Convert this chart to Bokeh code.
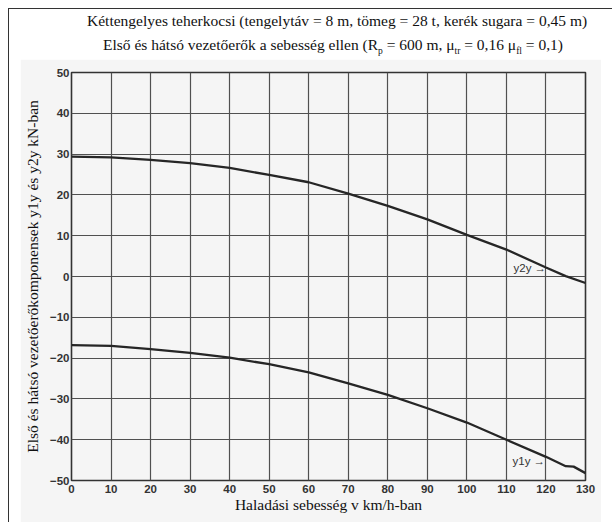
from bokeh.plotting import figure
from bokeh.models import Label, FixedTicker, Range1d, Div
from bokeh.layouts import column
from bokeh.embed import file_html
from bokeh.resources import INLINE

# ---- data ----
speed_y2y = [0, 10, 20, 30, 40, 50, 60, 70, 80, 90, 100, 110, 120, 125, 130]
y2y = [29.4, 29.2, 28.6, 27.8, 26.6, 24.9, 23.1, 20.3, 17.3, 14.0, 10.2, 6.6, 2.2, 0.1, -1.6]
speed_y1y = [0, 10, 20, 30, 40, 50, 60, 70, 80, 90, 100, 110, 120, 125, 127, 130]
y1y = [-16.8, -17.0, -17.8, -18.7, -19.9, -21.5, -23.5, -26.2, -29.0, -32.3, -35.8, -40.0, -44.2, -46.5, -46.6, -48.2]
x_ticks = [0, 10, 20, 30, 40, 50, 60, 70, 80, 90, 100, 110, 120, 130]
y_ticks = [-50, -40, -30, -20, -10, 0, 10, 20, 30, 40, 50]

title1 = "Kéttengelyes teherkocsi (tengelytáv = 8 m, tömeg = 28 t, kerék sugara = 0,45 m)"
title2 = ("Első és hátsó vezetőerők a sebesség ellen (R<sub>p</sub> = 600 m, "
          "μ<sub>tr</sub> = 0,16 μ<sub>fl</sub> = 0,1)")
x_label = "Haladási sebesség v km/h-ban"
y_label = "Első és hátsó vezetőerőkomponensek y1y és y2y kN-ban"
curve_labels = ["y2y →", "y1y →"]

# ---- layout (page pixels) ----
FL, FR, FT, FB = 72, 586, 73, 480          # plot frame in page coordinates
PX0, PY0, PX1, PY1 = 20.5, 59.5, 602, 522.5  # figure canvas in page coordinates
GREY = "#f5f5f5"

p = figure(width=int(PX1 - PX0), height=int(PY1 - PY0), output_backend="svg",
           toolbar_location=None,
           x_range=Range1d(0, 130), y_range=Range1d(-50, 50),
           min_border_left=int(FL - PX0), min_border_right=int(PX1 - FR),
           min_border_top=int(FT - PY0), min_border_bottom=int(PY1 - FB),
           margin=(0, 0, 0, 11))
p.background_fill_color = GREY
p.border_fill_color = GREY
p.outline_line_color = "#333333"
p.outline_line_width = 1.6

def dx(px):
    return (px - FL) / (FR - FL) * 130.0

def dy(py):
    return 50.0 - (py - FT) / (FB - FT) * 100.0

for ax in (p.xaxis[0], p.yaxis[0]):
    ax.axis_line_color = None
    ax.major_tick_line_color = None
    ax.minor_tick_line_color = None
    ax.major_tick_out = 0
    ax.major_tick_in = 0
    ax.minor_tick_out = 0
    ax.minor_tick_in = 0
    ax.major_label_text_font = "Liberation Sans"
    ax.major_label_text_font_size = "11.5px"
    ax.major_label_text_font_style = "bold"
    ax.major_label_text_color = "#333333"
    ax.axis_label_text_font = "Liberation Serif"
    ax.axis_label_text_font_size = "15.5px"
    ax.axis_label_text_font_style = "normal"
    ax.axis_label_text_color = "#111111"
p.xaxis.ticker = FixedTicker(ticks=x_ticks)
p.yaxis.ticker = FixedTicker(ticks=y_ticks)
p.xaxis.major_label_standoff = 4
p.yaxis.major_label_standoff = 2
p.xaxis.axis_label = x_label
p.yaxis.axis_label = y_label
p.xaxis.axis_label_standoff = 0
p.yaxis.axis_label_standoff = 6

p.xgrid.ticker = FixedTicker(ticks=x_ticks)
p.ygrid.ticker = FixedTicker(ticks=y_ticks)
for g in (p.xgrid[0], p.ygrid[0]):
    g.grid_line_color = "#505050"
    g.grid_line_width = 1.2

p.line(speed_y2y, y2y, line_color="#262626", line_width=2.3)
p.line(speed_y1y, y1y, line_color="#262626", line_width=2.3)

for txt, (px, py) in zip(curve_labels, [(514, 268), (513, 461)]):
    p.add_layout(Label(x=dx(px), y=dy(py), text=txt, text_font="Liberation Sans",
                       text_font_size="11.5px", text_color="#333333",
                       text_align="left", text_baseline="middle"))

line_css = ("display:block;height:24px;line-height:24px;white-space:nowrap;"
            "font-family:'Liberation Serif';font-size:15.5px;color:#111;text-align:left;")
sub_css = "font-size:9.5px;vertical-align:-4px;line-height:0;"
html = (f"<div style=\"{line_css}padding-left:78px;\">{title1}</div>"
        f"<div style=\"{line_css}padding-left:94px;\">"
        + title2.replace("<sub>", f"<span style=\"{sub_css}\">").replace("</sub>", "</span>")
        + "</div>")
title_div = Div(text=html, width=590, height=50, margin=(0, 0, 0, 0),
                styles={"background-color": "white"})

layout = column(title_div, p, width=604, margin=(8, 0, 0, 8),
                styles={"border-left": "1.5px solid #333333",
                        "border-top": "1.5px solid #333333",
                        "background-color": "white"})

open("out.html", "w").write(file_html(layout, INLINE))
